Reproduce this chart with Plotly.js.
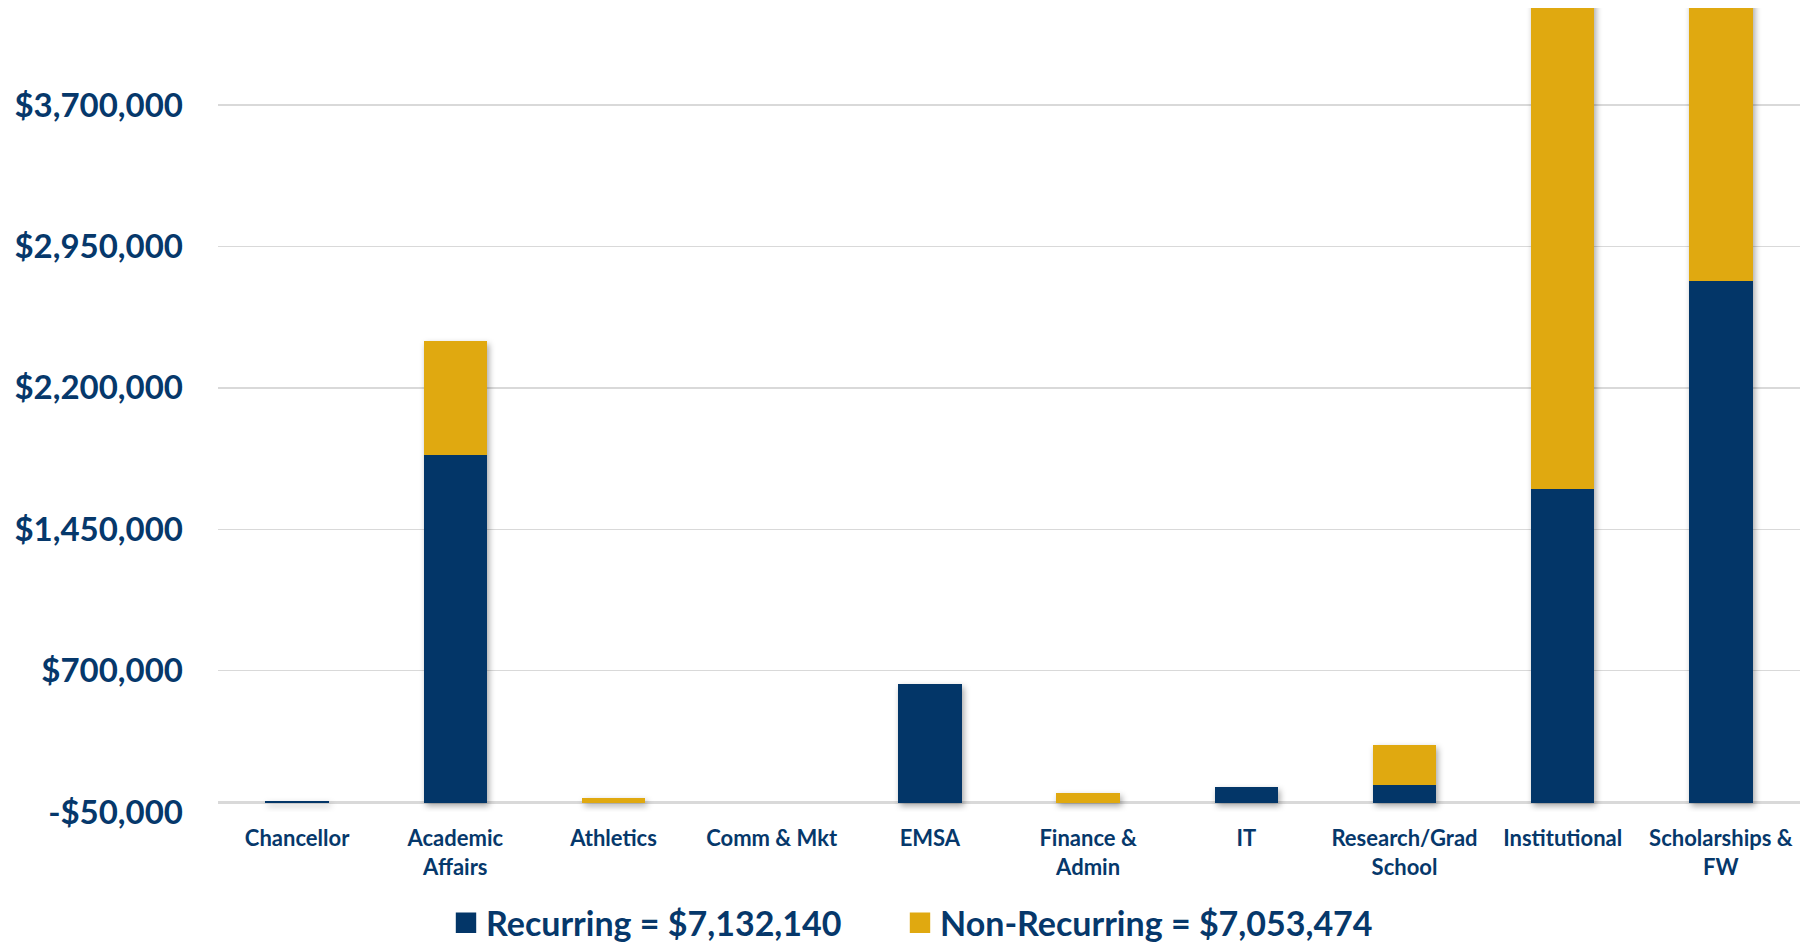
<!DOCTYPE html>
<html>
<head>
<meta charset="utf-8">
<script src="https://cdn.plot.ly/plotly-3.0.1.min.js"></script>
<style>
  html, body { margin: 0; padding: 0; background: #ffffff; }
  #chart { width: 1811px; height: 942px; }
  .barlayer { filter: drop-shadow(2px 3px 3px rgba(0,0,0,0.35)); }
</style>
</head>
<body>
<div id="chart"></div>
<script>
// ---- data ----
const categories = ["Chancellor", "Academic<br>Affairs", "Athletics", "Comm & Mkt", "EMSA",
                    "Finance &<br>Admin", "IT", "Research/Grad<br>School", "Institutional", "Scholarships &<br>FW"];
const recurring    = [8000, 1845000, 0, 0, 631000, 0, 80000, 92000, 1663000, 2767000];
const nonRecurring = [0, 606000, 24000, 0, 0, 52000, 0, 214000, 3400000, 2757000];
const seriesNames  = ["Recurring = $7,132,140", "Non-Recurring = $7,053,474"];
const yTickVals  = [-50000, 700000, 1450000, 2200000, 2950000, 3700000];
const yTickText  = ["-$50,000", "$700,000", "$1,450,000", "$2,200,000", "$2,950,000", "$3,700,000"];

const NAVY = "#033668";
const GOLD = "#E0A910";
const TEXT = "#06386B";
const FONT = "Lato, 'Open Sans', sans-serif";

const traces = [
  { type: "bar", name: seriesNames[0], x: categories, y: recurring, legend: "legend",
    marker: { color: NAVY, line: { width: 0 } } },
  { type: "bar", name: seriesNames[1], x: categories, y: nonRecurring, legend: "legend2",
    marker: { color: GOLD, line: { width: 0 } } }
];

const legendStyle = {
  orientation: "h",
  xref: "container", yref: "container",
  xanchor: "left",
  y: 0.02, yanchor: "middle",
  font: { family: FONT, size: 34, color: TEXT, weight: 700 },
  itemwidth: 30,
  bgcolor: "rgba(0,0,0,0)"
};

const layout = {
  width: 1811, height: 942,
  barmode: "stack",
  bargap: 0.6,
  paper_bgcolor: "#ffffff",
  plot_bgcolor: "#ffffff",
  margin: { l: 218, r: 11, t: 8, b: 130, pad: 0 },
  font: { family: FONT, color: TEXT, size: 22, weight: 700 },
  showlegend: true,
  legend: Object.assign({}, legendStyle, { x: 446 / 1811 }),
  legend2: Object.assign({}, legendStyle, { x: 900 / 1811 }),
  xaxis: {
    type: "category",
    showgrid: false,
    showline: false,
    ticks: "",
    tickfont: { family: FONT, size: 22, color: TEXT, weight: 700 },
    ticklabelstandoff: 11,
    fixedrange: true
  },
  yaxis: {
    range: [-50000, 4215000],
    tickvals: yTickVals,
    ticktext: yTickText,
    showgrid: true,
    gridcolor: "#D9D9D9",
    gridwidth: 1.3,
    zeroline: true,
    zerolinecolor: "#D9D9D9",
    zerolinewidth: 2.3,
    showline: false,
    ticks: "",
    tickfont: { family: FONT, size: 33, color: TEXT, weight: 700 },
    ticklabelstandoff: 34,
    fixedrange: true
  }
};

Plotly.newPlot("chart", traces, layout, { staticPlot: true, displayModeBar: false }).then(function () {
  document.querySelectorAll(".legendpoints path").forEach(function (p) {
    const t = p.getAttribute("transform") || "";
    p.setAttribute("transform", t + " scale(1.7)");
  });
});
</script>
</body>
</html>
